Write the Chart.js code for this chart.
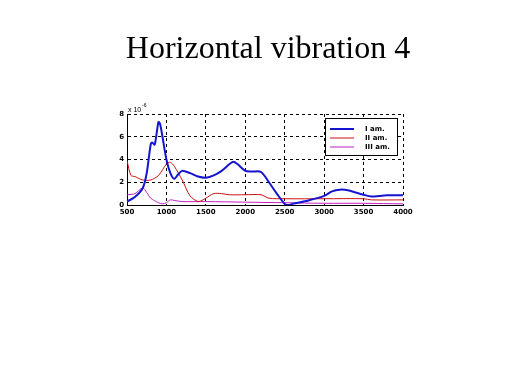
<!DOCTYPE html>
<html><head><meta charset="utf-8">
<script src="https://cdn.jsdelivr.net/npm/chart.js@4/dist/chart.umd.min.js"></script>
<style>html,body{margin:0;padding:0;background:#fff;}canvas{display:block;}</style>
</head><body>
<canvas id="c" width="519" height="389"></canvas>
<script>
const titleText = "Horizontal vibration 4";
const seriesLabels = ["I am.", "II am.", "III am."];
const xTicks = [500, 1000, 1500, 2000, 2500, 3000, 3500, 4000];
const yTicks = [0, 2, 4, 6, 8];

const xI = [500,600,700,750,800,820,850,880,900,920,950,1000,1050,1100,1150,1200,1300,1400,1500,1600,1700,1800,1850,1900,2000,2100,2200,2300,2400,2500,2550,2600,2800,3000,3100,3200,3300,3400,3500,3600,3700,3800,4000];
const yI = [0.3,0.7,1.5,2.8,5.3,5.5,5.3,6.5,7.3,7.1,6.0,4.0,2.8,2.3,2.7,3.0,2.8,2.5,2.4,2.6,3.0,3.6,3.8,3.6,3.0,2.95,2.9,2.0,1.0,0.1,0.0,0.1,0.4,0.8,1.2,1.35,1.3,1.1,0.9,0.75,0.8,0.85,0.85];

const xII = [500,550,600,700,800,900,1000,1050,1100,1200,1300,1400,1450,1500,1600,1700,1800,2000,2200,2300,2500,3000,3500,3600,4000];
const yII = [3.9,2.6,2.5,2.2,2.2,2.6,3.6,3.75,3.4,2.2,0.8,0.3,0.4,0.6,1.0,1.0,0.9,0.9,0.9,0.6,0.55,0.55,0.55,0.45,0.45];

const xIII = [500,600,700,750,800,900,950,1000,1050,1100,1200,1500,2000,2500,3000,3500,4000];
const yIII = [0.9,1.0,1.5,1.1,0.6,0.2,0.1,0.2,0.45,0.4,0.3,0.3,0.25,0.2,0.15,0.15,0.1];

const pts = (xs, ys) => xs.map((x, i) => ({x: x, y: ys[i]}));
const tickFont = {size: 7, family: '"DejaVu Sans", sans-serif', weight: 'bold'};

const overlay = {
  id: 'overlay',
  afterDraw(chart) {
    const ctx = chart.ctx, a = chart.chartArea;
    ctx.save();
    ctx.fillStyle = '#000';
    ctx.font = '32px "Liberation Serif", "Times New Roman", serif';
    ctx.textAlign = 'center';
    ctx.textBaseline = 'alphabetic';
    ctx.fillText(titleText, 268, 58);
    ctx.font = '7px "Liberation Sans", Arial, sans-serif';
    ctx.textAlign = 'left';
    ctx.fillText('x 10', a.left + 1, a.top - 2);
    ctx.font = '5px "Liberation Sans", Arial, sans-serif';
    ctx.fillText('-6', a.left + 15, a.top - 7);
    const lx = 325, ly = 118, lw = 72, lh = 37;
    ctx.fillStyle = '#fff';
    ctx.fillRect(lx, ly, lw, lh);
    ctx.strokeStyle = '#000';
    ctx.lineWidth = 1;
    ctx.setLineDash([]);
    ctx.strokeRect(lx + 0.5, ly + 0.5, lw, lh);
    ctx.font = 'bold 7px "DejaVu Sans", sans-serif';
    ctx.textBaseline = 'middle';
    chart.data.datasets.forEach((ds, i) => {
      const yy = ly + 11 + i * 9;
      ctx.strokeStyle = ds.borderColor;
      ctx.lineWidth = ds.borderWidth;
      ctx.beginPath();
      ctx.moveTo(lx + 5, yy);
      ctx.lineTo(lx + 29, yy);
      ctx.stroke();
      ctx.fillStyle = '#000';
      ctx.fillText(ds.label, lx + 40, yy);
    });
    ctx.restore();
  }
};

new Chart(document.getElementById('c'), {
  type: 'line',
  data: {
    datasets: [
      {label: seriesLabels[0], data: pts(xI, yI), borderColor: '#1414d2', borderWidth: 2, pointRadius: 0, tension: 0.3, fill: false},
      {label: seriesLabels[1], data: pts(xII, yII), borderColor: '#cc1010', borderWidth: 1, pointRadius: 0, tension: 0.3, fill: false},
      {label: seriesLabels[2], data: pts(xIII, yIII), borderColor: '#c020c0', borderWidth: 1, pointRadius: 0, tension: 0.3, fill: false}
    ]
  },
  options: {
    responsive: false,
    animation: false,
    layout: {padding: {left: 107, right: 116, top: 114, bottom: 169}},
    plugins: {legend: {display: false}, title: {display: false}, tooltip: {enabled: false}},
    scales: {
      x: {
        type: 'linear', min: 500, max: 4000,
        afterBuildTicks: s => { s.ticks = xTicks.map(v => ({value: v})); },
        afterFit: s => { s.height = 15; },
        grid: {color: '#000', lineWidth: 1, drawTicks: false, tickLength: 0},
        border: {display: true, color: '#000', width: 1, dash: [3, 3]},
        ticks: {color: '#000', font: tickFont, padding: 3, maxRotation: 0, autoSkip: false, callback: v => String(v)}
      },
      y: {
        min: 0, max: 8,
        afterBuildTicks: s => { s.ticks = yTicks.map(v => ({value: v})); },
        afterFit: s => { s.width = 20; },
        grid: {color: '#000', lineWidth: 1, drawTicks: false, tickLength: 0},
        border: {display: true, color: '#000', width: 1, dash: [3, 3]},
        ticks: {color: '#000', font: tickFont, padding: 3, callback: v => String(v)}
      }
    }
  },
  plugins: [overlay]
});
</script>
</body></html>
